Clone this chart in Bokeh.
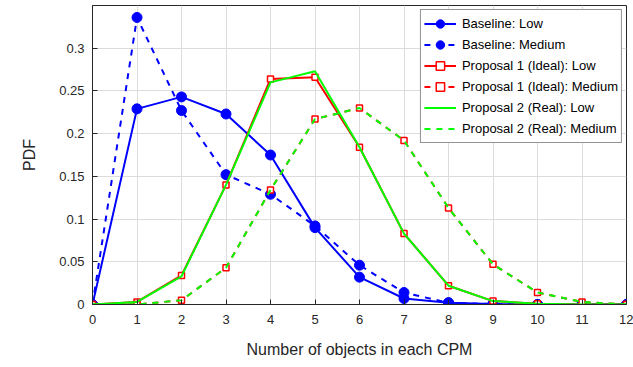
from bokeh.plotting import figure
from bokeh.models import FixedTicker, Legend, LegendItem, Range1d
from bokeh.embed import file_html
from bokeh.resources import INLINE

# Number of objects per CPM and the PDF of each scheme / traffic density
objects = [0, 1, 2, 3, 4, 5, 6, 7, 8, 9, 10, 11, 12]

baseline_low = [0, 0.229, 0.243, 0.223, 0.175, 0.090, 0.032, 0.007, 0.002, 0.0005, 0, 0, 0]
baseline_medium = [0, 0.336, 0.227, 0.152, 0.129, 0.092, 0.046, 0.014, 0.002, 0.0005, 0, 0, 0]
proposal1_low = [0, 0.003, 0.034, 0.140, 0.264, 0.266, 0.184, 0.083, 0.022, 0.004, 0.001, 0, 0]
proposal1_medium = [0, 0, 0.005, 0.043, 0.134, 0.217, 0.230, 0.192, 0.113, 0.047, 0.014, 0.003, 0]
proposal2_low = [0, 0.003, 0.033, 0.140, 0.260, 0.273, 0.184, 0.083, 0.022, 0.004, 0.001, 0, 0]
proposal2_medium = [0, 0, 0.005, 0.043, 0.134, 0.217, 0.230, 0.192, 0.113, 0.047, 0.014, 0.003, 0]

series_labels = [
    "Baseline: Low",
    "Baseline: Medium",
    "Proposal 1 (Ideal): Low",
    "Proposal 1 (Ideal): Medium",
    "Proposal 2 (Real): Low",
    "Proposal 2 (Real): Medium",
]

y_ticks = [0, 0.05, 0.1, 0.15, 0.2, 0.25, 0.3]
y_tick_labels = ["0", "0.05", "0.1", "0.15", "0.2", "0.25", "0.3"]

FONT = "Liberation Sans"
BLUE = "#0000ff"
RED = "#ff0000"
GREEN = "#00ff00"

p = figure(
    width=633, height=367,
    frame_width=534, frame_height=299,
    min_border_left=92, min_border_right=7, min_border_top=5, min_border_bottom=63,
    x_range=Range1d(0, 12), y_range=Range1d(0, 0.35),
    output_backend="svg", toolbar_location=None,
)
p.background_fill_color = "white"
p.border_fill_color = "white"
p.outline_line_color = "#262626"
p.outline_line_width = 1

p.xaxis.ticker = FixedTicker(ticks=objects)
p.yaxis.ticker = FixedTicker(ticks=y_ticks)
p.yaxis.major_label_overrides = {t: s for t, s in zip(y_ticks, y_tick_labels)}
for ax in (p.xaxis[0], p.yaxis[0]):
    ax.major_label_text_font = FONT
    ax.major_label_text_font_size = "13px"
    ax.major_label_text_color = "#262626"
    ax.axis_label_text_font = FONT
    ax.axis_label_text_font_size = "16px"
    ax.axis_label_text_font_style = "normal"
    ax.axis_label_text_color = "#262626"
    ax.axis_line_color = "#262626"
    ax.major_tick_line_color = "#262626"
    ax.major_tick_in = 5
    ax.major_tick_out = 0
    ax.minor_tick_line_color = None
p.xaxis.axis_label = "Number of objects in each CPM"
p.yaxis.axis_label = "PDF"
p.xaxis.major_label_standoff = 10
p.xaxis.axis_label_standoff = 14
p.yaxis.major_label_standoff = 8
p.yaxis.axis_label_standoff = 18

p.grid.grid_line_color = "#dcdcdc"
p.grid.grid_line_width = 1

items = []

r = p.line(objects, baseline_low, line_color=BLUE, line_width=2)
m = p.scatter(objects, baseline_low, marker="circle", size=10, fill_color=BLUE, line_color=BLUE)
items.append(LegendItem(label=series_labels[0], renderers=[r, m]))

r = p.line(objects, baseline_medium, line_color=BLUE, line_width=2, line_dash="6 6")
m = p.scatter(objects, baseline_medium, marker="circle", size=10, fill_color=BLUE, line_color=BLUE)
items.append(LegendItem(label=series_labels[1], renderers=[r, m]))

r = p.line(objects, proposal1_low, line_color=RED, line_width=2)
m = p.scatter(objects, proposal1_low, marker="square", size=6, fill_color="white", line_color=RED, line_width=1.5)
items.append(LegendItem(label=series_labels[2], renderers=[r, m]))

r = p.line(objects, proposal1_medium, line_color=RED, line_width=2, line_dash="6 6")
m = p.scatter(objects, proposal1_medium, marker="square", size=6, fill_color="white", line_color=RED, line_width=1.5)
items.append(LegendItem(label=series_labels[3], renderers=[r, m]))

r = p.line(objects, proposal2_low, line_color=GREEN, line_width=2)
items.append(LegendItem(label=series_labels[4], renderers=[r]))

r = p.line(objects, proposal2_medium, line_color=GREEN, line_width=2, line_dash="6 6")
items.append(LegendItem(label=series_labels[5], renderers=[r]))

legend = Legend(
    items=items, location="top_right",
    label_text_font=FONT, label_text_font_size="13px", label_text_color="#000000",
    glyph_width=32, glyph_height=21, label_height=21, spacing=0,
    padding=3, margin=4, label_standoff=6,
    border_line_color="#262626", border_line_width=1,
    background_fill_color="white", background_fill_alpha=1,
)
p.add_layout(legend, "center")

open("out.html", "w").write(file_html(p, INLINE))
